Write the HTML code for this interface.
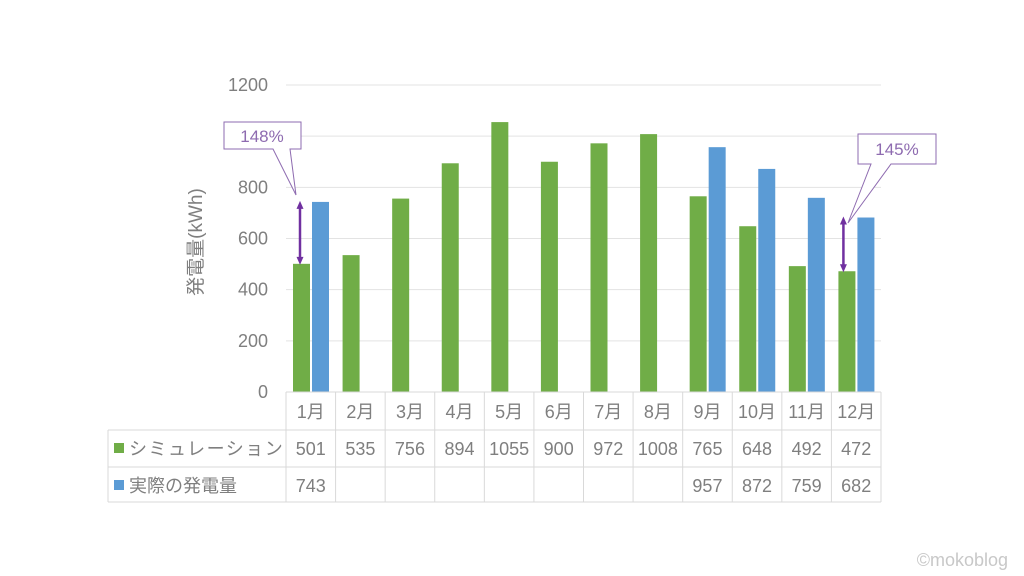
<!DOCTYPE html>
<html><head><meta charset="utf-8">
<style>
html,body{margin:0;padding:0;background:#fff;}
svg{display:block;font-family:"Liberation Sans","Noto Sans CJK JP",sans-serif;}
</style></head>
<body>
<svg id="chart" width="1024" height="576" viewBox="0 0 1024 576" xmlns="http://www.w3.org/2000/svg">
<rect width="1024" height="576" fill="#fff"/>
<g id="grid"></g>
<g id="bars"></g>
<g id="table"></g>
<text transform="translate(202,242) rotate(-90)" text-anchor="middle" font-size="19" fill="#7f7f7f">発電量(kWh)</text>
<g>
  <path d="M224,122 H301 V149 H290 L296,195 L273,149 H224 Z" fill="#fff" stroke="#8e6bb0" stroke-width="1"/>
  <text x="262" y="142" text-anchor="middle" font-size="17" fill="#8e6bb0">148%</text>
</g>
<g>
  <path d="M858,134 H936 V164 H891 L848,223 L871,164 H858 Z" fill="#fff" stroke="#8e6bb0" stroke-width="1"/>
  <text x="897" y="155" text-anchor="middle" font-size="17" fill="#8e6bb0">145%</text>
</g>
<g id="arrows"></g>
<text x="1008" y="566" text-anchor="end" font-size="18" fill="#c8c8c8">©mokoblog</text>
</svg>
<script>
const months=["1月","2月","3月","4月","5月","6月","7月","8月","9月","10月","11月","12月"];
const simValues=[501,535,756,894,1055,900,972,1008,765,648,492,472];
const actualValues=[743,null,null,null,null,null,null,null,957,872,759,682];
const yTicks=[0,200,400,600,800,1000,1200];
const seriesNames=["シミュレーション","実際の発電量"];
const ratioCallouts=[0,11];

const NS="http://www.w3.org/2000/svg";
const x0=286,x1=881,y0=392,yTop=85,yMax=1200;
const cw=(x1-x0)/months.length;
const y=v=>y0-(v/yMax)*(y0-yTop);
const cx=i=>x0+i*cw;
function el(tag,attrs,parent,text){const e=document.createElementNS(NS,tag);for(const k in attrs)e.setAttribute(k,attrs[k]);if(text!=null)e.textContent=text;parent.appendChild(e);return e;}
const grid=document.getElementById('grid'),bars=document.getElementById('bars'),table=document.getElementById('table'),arrows=document.getElementById('arrows');
yTicks.forEach(t=>{
  const l=el('line',{x1:x0,x2:x1,y1:y(t),y2:y(t),stroke:'#e3e3e3','stroke-width':1},grid);
  
  
  const tx=el('text',{x:268,y:y(t)+6,'text-anchor':'end','font-size':18,fill:'#7f7f7f'},grid,String(t));
  
  
});
const bw=17;
months.forEach((m,i)=>{
  const g=el('rect',{x:cx(i)+7,y:y(simValues[i]),width:bw,height:y0-y(simValues[i]),fill:'#70ad47'},bars);
  
  
  if(actualValues[i]!=null){
    const b=el('rect',{x:cx(i)+7+bw+2,y:y(actualValues[i]),width:bw,height:y0-y(actualValues[i]),fill:'#5b9bd5'},bars);
    
    
  }
});
const rowY=[392,430,467,502];
const tc='#d9d9d9';
el('line',{x1:x0,x2:x1,y1:rowY[0],y2:rowY[0],stroke:tc},table);
for(let r=1;r<4;r++){el('line',{x1:108,x2:x1,y1:rowY[r],y2:rowY[r],stroke:tc},table);}
el('line',{x1:108,x2:108,y1:rowY[1],y2:rowY[3],stroke:tc},table);
for(let i=0;i<=months.length;i++){el('line',{x1:cx(i),x2:cx(i),y1:rowY[0],y2:rowY[3],stroke:tc},table);}
months.forEach((m,i)=>{
  const t=el('text',{x:cx(i)+cw/2,y:418,'text-anchor':'middle','font-size':18,fill:'#7f7f7f'},table,m);
  
  
  const s=el('text',{x:cx(i)+cw/2,y:455,'text-anchor':'middle','font-size':18,fill:'#7f7f7f'},table,String(simValues[i]));
  
  
  if(actualValues[i]!=null){
    const a=el('text',{x:cx(i)+cw/2,y:492,'text-anchor':'middle','font-size':18,fill:'#7f7f7f'},table,String(actualValues[i]));
    
    
  }
});
const colors=['#70ad47','#5b9bd5'];
seriesNames.forEach((n,r)=>{
  const ry=rowY[r+1];
  const k=el('rect',{x:114,y:ry+13,width:10,height:10,fill:colors[r]},table);
  
  
  const t=el('text',{x:129,y:ry+25,'font-size':18,fill:'#7f7f7f','letter-spacing':r==0?'1.5':'0'},table,n);
  
  
});
ratioCallouts.forEach(i=>{
  const ax=i===0?cx(i)+14:cx(i)+12;
  const ya=y(actualValues[i]),ys=y(simValues[i]);
  const g=el('g',{stroke:'#7030a0',fill:'#7030a0'},arrows);
  
  
  el('line',{x1:ax,x2:ax,y1:ya+6,y2:ys-6,'stroke-width':2.5},g);
  el('path',{d:`M${ax-3.5},${ya+7} L${ax},${ya-1} L${ax+3.5},${ya+7}Z`,stroke:'none'},g);
  el('path',{d:`M${ax-3.5},${ys-7} L${ax},${ys+1} L${ax+3.5},${ys-7}Z`,stroke:'none'},g);
});
</script>
</body></html>
